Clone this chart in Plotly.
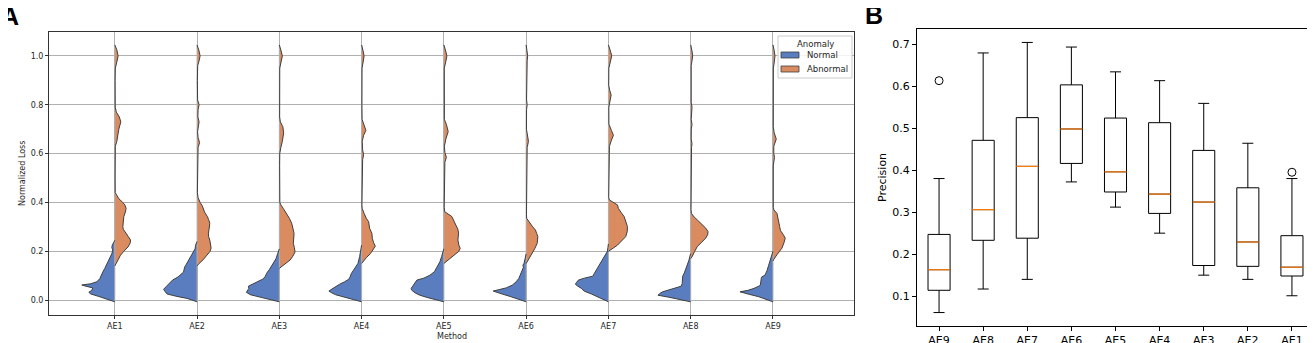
import plotly.graph_objects as go

# ---------------- data ----------------
methods = ["AE1", "AE2", "AE3", "AE4", "AE5", "AE6", "AE7", "AE8", "AE9"]
legend_title = "Anomaly"
legend_names = ["Normal", "Abnormal"]

# split-violin density profiles: (normalized loss, half-width density)
ae1_normal = [(-0.007, 0), (0.005, 8), (0.015, 16), (0.025, 24), (0.032, 26), (0.040, 23), (0.050, 22),
              (0.058, 30), (0.062, 33), (0.067, 24), (0.075, 18), (0.088, 15), (0.100, 14), (0.115, 12),
              (0.130, 10), (0.150, 7.5), (0.170, 5), (0.190, 3), (0.205, 2), (0.215, 3), (0.225, 2.5),
              (0.235, 0.8), (0.245, 0)]
ae1_abnormal = [(0.14, 0), (0.16, 2.5), (0.184, 5.7), (0.20, 9), (0.218, 13.3), (0.235, 15.5), (0.246, 15.7),
                (0.26, 13.5), (0.273, 11.3), (0.29, 8.5), (0.30, 8), (0.32, 8.3), (0.342, 9), (0.36, 10.5),
                (0.376, 11.3), (0.39, 10), (0.40, 8), (0.415, 4), (0.43, 1.5), (0.44, 0.4), (0.5, 0.3),
                (0.6, 0.3), (0.63, 0.5), (0.65, 2), (0.68, 3), (0.70, 4), (0.73, 6), (0.75, 4.5), (0.77, 1.5),
                (0.79, 0.4), (0.90, 0.3), (0.95, 0.5), (0.975, 2), (1.0, 3.3), (1.025, 2), (1.045, 0)]
ae2_normal = [(-0.007, 0), (0.007, 10), (0.015, 20), (0.025, 30), (0.035, 32), (0.044, 33.5), (0.055, 31),
              (0.068, 28), (0.082, 24.5), (0.095, 19), (0.105, 16), (0.115, 13.5), (0.125, 13), (0.135, 12.5),
              (0.145, 11), (0.165, 8), (0.19, 4.7), (0.21, 2), (0.225, 1.5), (0.24, 0)]
ae2_abnormal = [(0.14, 0), (0.15, 2), (0.165, 6), (0.184, 10.3), (0.2, 13), (0.213, 14), (0.23, 13.5),
                (0.246, 12.7), (0.26, 11.5), (0.274, 11.3), (0.29, 12), (0.315, 12.7), (0.33, 11.5),
                (0.342, 10.3), (0.36, 7.5), (0.385, 5.3), (0.40, 3), (0.42, 1), (0.44, 0.3), (0.6, 0.3),
                (0.625, 1), (0.645, 2.5), (0.665, 1), (0.69, 0.5), (0.71, 1.2), (0.73, 2), (0.75, 0.8),
                (0.78, 1), (0.80, 2), (0.82, 0.5), (0.9, 0.3), (0.96, 0.6), (0.98, 2), (1.0, 3), (1.02, 2),
                (1.045, 0)]
ae3_normal = [(-0.007, 0), (0.005, 12), (0.012, 22), (0.022, 29), (0.032, 33), (0.04, 32), (0.048, 30.5),
              (0.057, 31), (0.065, 27), (0.075, 22), (0.085, 17), (0.095, 14.3), (0.11, 12.7), (0.125, 10),
              (0.14, 7.7), (0.155, 5), (0.17, 3.3), (0.19, 1.7), (0.20, 0.8), (0.21, 0)]
ae3_abnormal = [(0.13, 0), (0.137, 2.3), (0.15, 6), (0.164, 10.7), (0.18, 13.5), (0.197, 15.7), (0.215, 15),
                (0.232, 14), (0.25, 14.3), (0.273, 14.7), (0.295, 13.5), (0.315, 12.3), (0.335, 10),
                (0.355, 7.3), (0.375, 4), (0.39, 1.5), (0.40, 0.5), (0.55, 0.3), (0.6, 0.4), (0.625, 1.5),
                (0.65, 3), (0.685, 4.3), (0.71, 3.5), (0.73, 1), (0.75, 0.3), (0.95, 0.4), (0.975, 2),
                (1.0, 3), (1.02, 1.8), (1.045, 0)]
ae4_normal = [(-0.007, 0), (0.007, 12), (0.015, 20), (0.022, 26), (0.03, 30), (0.037, 32.7), (0.041, 31.3),
              (0.047, 29), (0.055, 27), (0.065, 22), (0.075, 17), (0.085, 13), (0.095, 11.5), (0.109, 10.3),
              (0.12, 8.5), (0.13, 7), (0.15, 3.7), (0.178, 2), (0.198, 1), (0.215, 0.5), (0.225, 0)]
ae4_abnormal = [(0.15, 0), (0.157, 1.3), (0.164, 2.5), (0.175, 5), (0.19, 8.7), (0.205, 11.5), (0.221, 13.7),
                (0.235, 12), (0.253, 10.7), (0.273, 10.3), (0.294, 8), (0.321, 7), (0.335, 4.7), (0.355, 2.5),
                (0.376, 0.5), (0.39, 0.3), (0.55, 0.3), (0.575, 1), (0.595, 2), (0.615, 1), (0.65, 0.6),
                (0.675, 2), (0.695, 4.3), (0.715, 2.5), (0.74, 0.5), (0.8, 0.3), (0.95, 0.4), (0.975, 1.5),
                (1.0, 2.5), (1.02, 1.5), (1.045, 0)]
ae5_normal = [(-0.007, 0), (0.0, 8), (0.01, 16), (0.02, 24), (0.03, 29), (0.041, 32.3), (0.048, 32.7),
              (0.058, 31), (0.07, 29), (0.082, 27), (0.09, 20), (0.102, 14), (0.116, 9.5), (0.13, 7.5),
              (0.143, 6.5), (0.157, 4), (0.178, 2.3), (0.198, 0.8), (0.21, 0)]
ae5_abnormal = [(0.15, 0), (0.16, 3), (0.17, 7), (0.184, 11.3), (0.2, 15), (0.212, 16.3), (0.225, 15),
                (0.246, 14), (0.26, 14.3), (0.274, 14.7), (0.29, 14), (0.301, 13), (0.32, 10.5), (0.342, 8),
                (0.355, 4), (0.362, 0.8), (0.38, 0.3), (0.55, 0.3), (0.565, 1), (0.585, 2.5), (0.605, 1),
                (0.63, 0.5), (0.66, 2), (0.69, 4.3), (0.72, 2.5), (0.74, 0.5), (0.85, 0.3), (0.95, 0.4),
                (0.975, 1.8), (1.0, 3), (1.02, 1.8), (1.045, 0)]
ae6_normal = [(-0.007, 0), (0.005, 8), (0.015, 16), (0.025, 24), (0.033, 31), (0.037, 33), (0.043, 27),
              (0.05, 20), (0.061, 14), (0.075, 10), (0.089, 7.3), (0.105, 5.5), (0.116, 4.5), (0.125, 3.5),
              (0.135, 2.7), (0.143, 3.3), (0.15, 2.2), (0.171, 1), (0.19, 0)]
ae6_abnormal = [(0.15, 0), (0.17, 3), (0.19, 6), (0.21, 8.5), (0.232, 11), (0.25, 11.7), (0.26, 11.7),
                (0.273, 10.5), (0.287, 9.3), (0.30, 6.5), (0.315, 4.3), (0.325, 2), (0.335, 0.5), (0.35, 0.3),
                (0.6, 0.3), (0.625, 1), (0.65, 2.3), (0.675, 1), (0.7, 0.3), (0.78, 0.4), (0.8, 1), (0.82, 0.4),
                (0.95, 0.4), (0.98, 1), (1.0, 1.5), (1.02, 1), (1.045, 0)]
ae7_normal = [(-0.007, 0), (0.005, 6), (0.014, 11), (0.025, 17), (0.037, 24.3), (0.048, 27), (0.058, 31),
              (0.065, 33), (0.072, 32), (0.082, 30), (0.09, 24), (0.098, 15.5), (0.11, 14), (0.123, 12),
              (0.143, 9), (0.164, 6), (0.184, 3.3), (0.2, 1), (0.215, 0.5), (0.23, 0)]
ae7_abnormal = [(0.2, 0), (0.205, 2.3), (0.215, 5.5), (0.225, 9), (0.24, 13), (0.26, 17.3), (0.28, 18.8),
                (0.301, 19), (0.32, 17.5), (0.342, 15.7), (0.36, 12.5), (0.375, 10), (0.39, 9), (0.4, 5),
                (0.41, 1), (0.42, 0.3), (0.6, 0.3), (0.63, 1), (0.655, 3), (0.675, 5), (0.695, 3), (0.72, 0.5),
                (0.79, 0.4), (0.815, 1.5), (0.84, 2.7), (0.86, 1.2), (0.88, 0.3), (0.95, 0.4), (0.975, 1.8),
                (1.0, 3.3), (1.02, 2), (1.045, 0)]
ae8_normal = [(-0.007, 0), (0.003, 10), (0.012, 22), (0.02, 32.7), (0.027, 31), (0.034, 28), (0.043, 20),
              (0.05, 14), (0.057, 9.5), (0.068, 8.5), (0.085, 8.3), (0.098, 8), (0.11, 6.5), (0.125, 5),
              (0.143, 3.3), (0.164, 1.7), (0.18, 0.8), (0.19, 0)]
ae8_abnormal = [(0.17, 0), (0.18, 1.7), (0.2, 4), (0.22, 6.7), (0.237, 11), (0.254, 15), (0.268, 17),
                (0.281, 17.3), (0.295, 15), (0.301, 13.3), (0.315, 10), (0.328, 6.7), (0.34, 3.5), (0.355, 0.8),
                (0.37, 0.3), (0.6, 0.3), (0.625, 0.8), (0.64, 1.3), (0.66, 0.5), (0.7, 0.6), (0.72, 1.3),
                (0.74, 0.5), (0.77, 0.6), (0.79, 1.3), (0.81, 0.5), (0.9, 0.3), (0.96, 0.5), (0.98, 1.3),
                (1.0, 2), (1.02, 1.3), (1.045, 0)]
ae9_normal = [(-0.007, 0), (0.005, 8), (0.014, 14.3), (0.024, 24), (0.034, 33), (0.04, 25), (0.048, 19),
              (0.06, 12.7), (0.075, 12), (0.094, 11.5), (0.102, 8), (0.12, 6), (0.143, 4.3), (0.164, 2.7),
              (0.184, 1), (0.2, 0)]
ae9_abnormal = [(0.16, 0), (0.166, 0.7), (0.186, 4), (0.2, 7), (0.213, 9), (0.235, 11), (0.254, 12.3),
                (0.27, 10), (0.285, 7.5), (0.301, 6.7), (0.33, 5.5), (0.355, 4), (0.369, 1), (0.38, 0.3),
                (0.55, 0.3), (0.57, 0.8), (0.585, 1.5), (0.6, 0.8), (0.63, 0.8), (0.66, 3.3), (0.685, 1.2),
                (0.71, 0.3), (0.95, 0.4), (0.975, 1.3), (1.0, 2), (1.02, 1.3), (1.045, 0)]

# box plot (panel B)
box_labels = ["AE9", "AE8", "AE7", "AE6", "AE5", "AE4", "AE3", "AE2", "AE1"]
box_upper = [0.380, 0.679, 0.704, 0.693, 0.634, 0.613, 0.559, 0.464, 0.380]
box_q3 = [0.247, 0.471, 0.525, 0.603, 0.524, 0.513, 0.447, 0.358, 0.244]
box_median = [0.163, 0.306, 0.409, 0.498, 0.396, 0.343, 0.324, 0.229, 0.169]
box_q1 = [0.114, 0.233, 0.238, 0.416, 0.348, 0.297, 0.173, 0.171, 0.148]
box_lower = [0.061, 0.117, 0.140, 0.372, 0.312, 0.250, 0.150, 0.140, 0.101]
outlier_labels = ["AE9", "AE1"]
outlier_values = [0.613, 0.395]

normal_profiles = [ae1_normal, ae2_normal, ae3_normal, ae4_normal, ae5_normal,
                   ae6_normal, ae7_normal, ae8_normal, ae9_normal]
abnormal_profiles = [ae1_abnormal, ae2_abnormal, ae3_abnormal, ae4_abnormal, ae5_abnormal,
                     ae6_abnormal, ae7_abnormal, ae8_abnormal, ae9_abnormal]

# ---------------- styling ----------------
W, H = 1315, 343
OFF = 8                      # page body margin
FW, FH = W - OFF, H - OFF    # figure size


def px(x):
    return (x - OFF) / FW


def py(y):
    return 1 - (y - OFF) / FH


BLUE = "#5a7dc0"
ORANGE = "#da8b5f"
OUTLINE = "#3f3f3f"
GRID = "#b0b0b0"
FONT = "DejaVu Sans"
DENS_SCALE = 82.25  # density units per category step

fig = go.Figure()


def add_half(prof, c, sign, color):
    vs = [p[0] for p in prof]
    xs = [c + sign * p[1] / DENS_SCALE for p in prof]
    fig.add_trace(go.Scatter(
        x=xs + [c, c], y=vs + [vs[-1], vs[0]], mode="lines", fill="toself",
        fillcolor=color, line=dict(width=0, color=color),
        showlegend=False, hoverinfo="skip", xaxis="x", yaxis="y"))


for i, m in enumerate(methods):
    add_half(normal_profiles[i], i, -1, BLUE)
for i, m in enumerate(methods):
    add_half(abnormal_profiles[i], i, 1, ORANGE)

# center lines (grid showing through)
cx, cy = [], []
for i, m in enumerate(methods):
    lo = min(normal_profiles[i][0][0], abnormal_profiles[i][0][0])
    hi = max(normal_profiles[i][-1][0], abnormal_profiles[i][-1][0])
    cx += [i, i, None]
    cy += [lo, hi, None]
fig.add_trace(go.Scatter(x=cx, y=cy, mode="lines", line=dict(color=GRID, width=1),
                         showlegend=False, hoverinfo="skip", xaxis="x", yaxis="y"))

# outlines
ox, oy = [], []
for i, m in enumerate(methods):
    for prof, sign in ((normal_profiles[i], -1), (abnormal_profiles[i], 1)):
        ox += [i + sign * p[1] / DENS_SCALE for p in prof] + [None]
        oy += [p[0] for p in prof] + [None]
fig.add_trace(go.Scatter(x=ox, y=oy, mode="lines", line=dict(color=OUTLINE, width=1),
                         showlegend=False, hoverinfo="skip", xaxis="x", yaxis="y"))

# ---------------- panel B boxes ----------------
pos = list(range(1, len(box_labels) + 1))
fig.add_trace(go.Box(
    x=pos, q1=box_q1, median=box_median, q3=box_q3, lowerfence=box_lower, upperfence=box_upper,
    width=0.5, whiskerwidth=0.5, fillcolor="rgba(0,0,0,0)", line=dict(color="black", width=1),
    boxpoints=False, showlegend=False, hoverinfo="skip", xaxis="x2", yaxis="y2"))
mx, my = [], []
for p, md in zip(pos, box_median):
    mx += [p - 0.25, p + 0.25, None]
    my += [md, md, None]
fig.add_trace(go.Scatter(x=mx, y=my, mode="lines", line=dict(color="#ff7f0e", width=1.2),
                         showlegend=False, hoverinfo="skip", xaxis="x2", yaxis="y2"))
fig.add_trace(go.Scatter(
    x=[box_labels.index(l) + 1 for l in outlier_labels], y=outlier_values, mode="markers",
    marker=dict(symbol="circle-open", size=8, color="black", line=dict(width=1)),
    showlegend=False, hoverinfo="skip", xaxis="x2", yaxis="y2"))

# ---------------- legend (drawn manually, matplotlib style) ----------------
shapes = [
    dict(type="rect", xref="paper", yref="paper", x0=px(778), x1=px(852), y0=py(78), y1=py(36),
         line=dict(color="#cccccc", width=1), fillcolor="rgba(255,255,255,0.85)", layer="above"),
]
annotations = [
    dict(text=legend_title, x=px(815), y=py(44.5), xref="paper", yref="paper", showarrow=False,
         xanchor="center", yanchor="middle", font=dict(size=8.5, family=FONT, color="#262626")),
]
for k, (name, col) in enumerate(zip(legend_names, (BLUE, ORANGE))):
    yc = 55 + 14 * k
    shapes.append(dict(type="rect", xref="paper", yref="paper", x0=px(781), x1=px(799),
                       y0=py(yc + 3), y1=py(yc - 3), line=dict(color=OUTLINE, width=0.8),
                       fillcolor=col, layer="above"))
    annotations.append(dict(text=name, x=px(805), y=py(yc), xref="paper", yref="paper", showarrow=False,
                            xanchor="left", yanchor="middle",
                            font=dict(size=8.5, family=FONT, color="#262626")))

annotations += [
    dict(text="<b>A</b>", x=px(10), y=py(16.5), xref="paper", yref="paper", showarrow=False,
         xanchor="center", yanchor="middle", font=dict(size=25, family="Liberation Sans", color="black")),
    dict(text="<b>B</b>", x=px(873.5), y=py(14.5), xref="paper", yref="paper", showarrow=False,
         xanchor="center", yanchor="middle", font=dict(size=25, family="Liberation Sans", color="black")),
    dict(text="Normalized Loss", x=px(22), y=py(174), xref="paper", yref="paper", showarrow=False,
         xanchor="center", yanchor="middle", textangle=-90,
         font=dict(size=8, family=FONT, color="#262626")),
    dict(text="Method", x=px(452), y=py(336), xref="paper", yref="paper", showarrow=False,
         xanchor="center", yanchor="middle", font=dict(size=8, family=FONT, color="#262626")),
    dict(text="Precision", x=px(882), y=py(178), xref="paper", yref="paper", showarrow=False,
         xanchor="center", yanchor="middle", textangle=-90,
         font=dict(size=11, family=FONT, color="black")),
]

# ---------------- layout ----------------
fig.update_layout(
    width=FW, height=FH, margin=dict(l=0, r=0, t=0, b=0, autoexpand=False),
    paper_bgcolor="white", plot_bgcolor="white",
    font=dict(family=FONT, color="#262626"),
    showlegend=False,
    xaxis=dict(domain=[px(49), px(854)], range=[-0.80, 8.985], tickvals=list(range(len(methods))),
               ticktext=methods, automargin=False,
               showgrid=True, gridcolor=GRID, gridwidth=1, zeroline=False,
               showline=True, linecolor="#333333", linewidth=1, mirror=True,
               ticks="outside", ticklen=3, tickcolor="#333333", tickfont=dict(size=8, family=FONT),
               anchor="y"),
    yaxis=dict(domain=[py(315), py(32)], range=[-0.061, 1.098], tickvals=[0, 0.2, 0.4, 0.6, 0.8, 1.0],
               ticktext=["0.0", "0.2", "0.4", "0.6", "0.8", "1.0"], automargin=False,
               showgrid=True, gridcolor=GRID, gridwidth=1, zeroline=False,
               showline=True, linecolor="#333333", linewidth=1, mirror=True,
               ticks="outside", ticklen=3, tickcolor="#333333", tickfont=dict(size=8, family=FONT),
               anchor="x"),
    xaxis2=dict(domain=[px(917), px(1314)], range=[0.5, 9.5], tickvals=pos, ticktext=box_labels,
                automargin=False,
                showgrid=False, zeroline=False, showline=True, linecolor="black", linewidth=1, mirror=True,
                ticks="outside", ticklen=4, tickcolor="black", tickfont=dict(size=11, family=FONT, color="black"),
                anchor="y2"),
    yaxis2=dict(domain=[py(326), py(29)], range=[0.029, 0.736], tickvals=[0.1, 0.2, 0.3, 0.4, 0.5, 0.6, 0.7],
                ticktext=["0.1", "0.2", "0.3", "0.4", "0.5", "0.6", "0.7"], automargin=False,
                showgrid=False, zeroline=False, showline=True, linecolor="black", linewidth=1, mirror=True,
                ticks="outside", ticklen=4, tickcolor="black", tickfont=dict(size=11, family=FONT, color="black"),
                anchor="x2"),
    shapes=shapes,
    annotations=annotations,
)

fig.write_html("out.html")
